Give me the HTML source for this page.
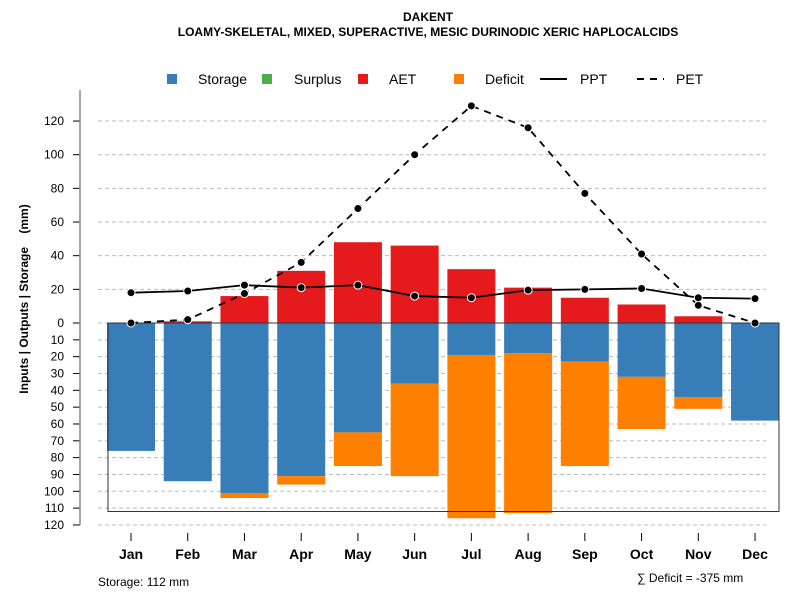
<!DOCTYPE html>
<html><head><meta charset="utf-8"><style>
body{margin:0;background:#fff}
svg{display:block;font-family:"Liberation Sans",sans-serif}
</style></head><body>
<svg id="chart" width="800" height="600" xmlns="http://www.w3.org/2000/svg">
<text x="428" y="21" text-anchor="middle" font-size="12" font-weight="bold">DAKENT</text>
<text x="428" y="36" text-anchor="middle" font-size="12" font-weight="bold">LOAMY-SKELETAL, MIXED, SUPERACTIVE, MESIC DURINODIC XERIC HAPLOCALCIDS</text>
<g>
<g><rect x="167" y="74" width="10" height="10" fill="#377eb8"/><text x="198" y="84" font-size="14">Storage</text></g>
<g><rect x="262" y="74" width="10" height="10" fill="#4daf4a"/><text x="294" y="84" font-size="14">Surplus</text></g>
<g><rect x="358" y="74" width="10" height="10" fill="#e41a1c"/><text x="389" y="84" font-size="14">AET</text></g>
<g><rect x="454" y="74" width="10" height="10" fill="#ff7f00"/><text x="485" y="84" font-size="14">Deficit</text></g>
<g><line x1="540" y1="79" x2="567" y2="79" stroke="#000" stroke-width="2"/><text x="580" y="84" font-size="14">PPT</text></g>
<g><line x1="637" y1="79" x2="664" y2="79" stroke="#000" stroke-width="2" stroke-dasharray="7,6"/><text x="676" y="84" font-size="14">PET</text></g>
</g>
<text transform="translate(28,299) rotate(-90)" text-anchor="middle" font-size="12" font-weight="bold">Inputs | Outputs | Storage&#160;&#160;&#160;&#160;(mm)</text>
<g id="grid"></g><g id="bars"></g><g id="lines"></g><g id="axes"></g>
<text x="98" y="586" font-size="12">Storage: 112 mm</text>
<text x="637" y="582" font-size="12">∑ Deficit = -375 mm</text>
</svg>
<script>
const months=["Jan","Feb","Mar","Apr","May","Jun","Jul","Aug","Sep","Oct","Nov","Dec"];
const aet=[0,1,16,31,48,46,32,21,15,11,4,0];
const storage=[76,94,101,91,65,36,19,18,23,32,44,58];
const deficit=[0,0,3,5,20,55,97,95,62,31,7,0];
const ppt=[18,19,22.5,21,22.5,16,15,19.5,20,20.5,15,14.5];
const pet=[0,2,17.5,36,68,100,129,116,77,41,10.5,0];
const upTicks=[0,20,40,60,80,100,120];
const downTicks=[10,20,30,40,50,60,70,80,90,100,110,120];
const soilStorage=112;
const NS="http://www.w3.org/2000/svg";
const y0=323,k=1.683;
const yUp=v=>y0-v*k, yDn=v=>y0+v*k;
const xC=i=>131+i*56.73;
const bw=48;
function mk(tag,attrs,parent){const e=document.createElementNS(NS,tag);for(const a in attrs)e.setAttribute(a,attrs[a]);document.getElementById(parent).appendChild(e);return e;}
upTicks.forEach(t=>{
 const g=mk('line',{x1:98,x2:766,y1:yUp(t),y2:yUp(t),stroke:'#bbb','stroke-dasharray':'4,3'},'grid');
 
 
 mk('line',{x1:73,x2:80,y1:yUp(t),y2:yUp(t),stroke:'#000'},'axes');
 const l=mk('text',{x:64,y:yUp(t)+4,'text-anchor':'end','font-size':12},'axes');l.textContent=t;
 
 
});
downTicks.forEach(t=>{
 const g=mk('line',{x1:98,x2:766,y1:yDn(t),y2:yDn(t),stroke:'#bbb','stroke-dasharray':'4,3'},'grid');
 
 
 mk('line',{x1:73,x2:80,y1:yDn(t),y2:yDn(t),stroke:'#000'},'axes');
 const l=mk('text',{x:64,y:yDn(t)+4,'text-anchor':'end','font-size':12},'axes');l.textContent=t;
 
 
});
const ax=mk('line',{x1:80,x2:80,y1:90,y2:yDn(120),stroke:'#888','stroke-width':1.5},'axes');


months.forEach((m,i)=>{
 const x=xC(i);
 const a=mk('rect',{x:x-bw/2,y:yUp(aet[i]),width:bw,height:aet[i]*k,fill:'#e41a1c'},'bars');
 
 
 const s=mk('rect',{x:x-bw/2,y:y0,width:bw,height:storage[i]*k,fill:'#377eb8'},'bars');
 
 
 const d=mk('rect',{x:x-bw/2,y:yDn(storage[i]),width:bw,height:deficit[i]*k,fill:'#ff7f00'},'bars');
 
 
 mk('line',{x1:x,x2:x,y1:533,y2:541,stroke:'#000'},'axes');
 const t=mk('text',{x:x,y:559,'text-anchor':'middle','font-size':14,'font-weight':'bold'},'axes');t.textContent=m;
 
 
});
const box=mk('rect',{x:108,y:y0,width:671,height:soilStorage*k,fill:'none',stroke:'#333'},'bars');


function series(vals,name,dash){
 const p=vals.map((v,i)=>xC(i)+','+yUp(v)).join(' ');
 const l=mk('polyline',{points:p,fill:'none',stroke:'#000','stroke-width':1.8,'stroke-dasharray':dash},'lines');
 
 
 vals.forEach((v,i)=>{const c=mk('circle',{cx:xC(i),cy:yUp(v),r:4,fill:'#000',stroke:'#fff','stroke-width':1},'lines');
 
 });
}
series(pet,'pet','7,6');
series(ppt,'ppt','none');
</script>
</body></html>
